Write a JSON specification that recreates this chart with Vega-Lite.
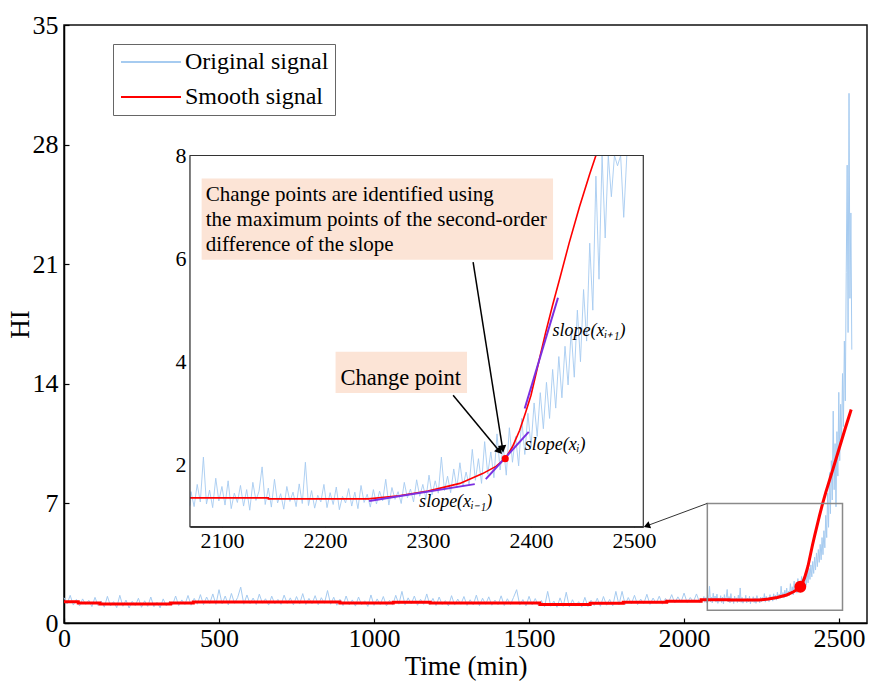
{
  "$schema": "https://vega.github.io/schema/vega-lite/v6.json",
  "width": 803,
  "height": 598,
  "autosize": {"type": "none"},
  "padding": {"left": 64, "top": 25, "right": 2, "bottom": 63},
  "background": "white",
  "config": {
    "font": "Liberation Serif",
    "view": {"stroke": "#111", "strokeWidth": 1.5},
    "axis": {"grid": false, "labelFont": "Liberation Serif", "titleFont": "Liberation Serif", "labelColor": "#000", "titleColor": "#000", "domainColor": "#000", "tickColor": "#000", "titleFontWeight": "normal", "labelFlush": false, "labelOverlap": false},
    "text": {"font": "Liberation Serif", "color": "#000"},
    "legend": {"labelFont": "Liberation Serif", "labelColor": "#000"}
  },
  "datasets": {
    "signal": [
      {"t":0,"v":1.48},{"t":10,"v":1.12},{"t":20,"v":1.62},{"t":30,"v":1.05},{"t":40,"v":1.38},{"t":50,"v":1.0},{"t":60,"v":1.41},{"t":70,"v":1.09},{"t":80,"v":1.33},{"t":90,"v":0.96},
      {"t":100,"v":1.5},{"t":110,"v":1.02},{"t":120,"v":1.29},{"t":130,"v":0.93},{"t":140,"v":1.56},{"t":150,"v":1.0},{"t":160,"v":1.25},{"t":170,"v":0.9},{"t":180,"v":1.62},{"t":190,"v":0.98},
      {"t":200,"v":1.34},{"t":210,"v":0.88},{"t":220,"v":1.27},{"t":230,"v":1.01},{"t":240,"v":1.45},{"t":250,"v":0.92},{"t":260,"v":1.3},{"t":270,"v":0.97},{"t":280,"v":1.52},{"t":290,"v":0.95},
      {"t":300,"v":1.22},{"t":310,"v":0.89},{"t":320,"v":1.41},{"t":330,"v":1.0},{"t":340,"v":1.26},{"t":350,"v":1.05},{"t":360,"v":1.58},{"t":370,"v":1.02},{"t":380,"v":1.35},{"t":390,"v":1.08},
      {"t":400,"v":1.61},{"t":410,"v":1.04},{"t":420,"v":1.44},{"t":430,"v":1.1},{"t":440,"v":1.66},{"t":450,"v":1.07},{"t":460,"v":1.52},{"t":470,"v":1.14},{"t":480,"v":1.7},{"t":490,"v":1.09},
      {"t":500,"v":1.95},{"t":510,"v":1.12},{"t":520,"v":1.58},{"t":530,"v":1.06},{"t":540,"v":1.73},{"t":550,"v":1.15},{"t":560,"v":1.49},{"t":570,"v":2.1},{"t":580,"v":1.1},{"t":590,"v":1.64},
      {"t":600,"v":1.13},{"t":610,"v":1.46},{"t":620,"v":1.08},{"t":630,"v":1.69},{"t":640,"v":1.16},{"t":650,"v":1.42},{"t":660,"v":1.05},{"t":670,"v":1.57},{"t":680,"v":1.12},{"t":690,"v":1.38},
      {"t":700,"v":1.09},{"t":710,"v":1.63},{"t":720,"v":1.14},{"t":730,"v":1.47},{"t":740,"v":1.06},{"t":750,"v":1.55},{"t":760,"v":1.11},{"t":770,"v":1.72},{"t":780,"v":1.08},{"t":790,"v":1.44},
      {"t":800,"v":1.13},{"t":810,"v":1.6},{"t":820,"v":1.07},{"t":830,"v":1.48},{"t":840,"v":1.15},{"t":850,"v":1.9},{"t":860,"v":1.1},{"t":870,"v":1.51},{"t":880,"v":1.04},{"t":890,"v":1.39},
      {"t":900,"v":1.02},{"t":910,"v":1.58},{"t":920,"v":1.06},{"t":930,"v":1.35},{"t":940,"v":0.99},{"t":950,"v":1.52},{"t":960,"v":1.07},{"t":970,"v":1.3},{"t":980,"v":0.97},{"t":990,"v":1.64},
      {"t":1000,"v":1.03},{"t":1010,"v":1.41},{"t":1020,"v":1.08},{"t":1030,"v":1.55},{"t":1040,"v":1.0},{"t":1050,"v":1.33},{"t":1060,"v":1.05},{"t":1070,"v":1.62},{"t":1080,"v":1.1},{"t":1090,"v":1.85},
      {"t":1100,"v":1.06},{"t":1110,"v":1.47},{"t":1120,"v":1.12},{"t":1130,"v":1.58},{"t":1140,"v":1.04},{"t":1150,"v":1.39},{"t":1160,"v":1.09},{"t":1170,"v":1.7},{"t":1180,"v":1.07},{"t":1190,"v":1.44},
      {"t":1200,"v":1.02},{"t":1210,"v":1.52},{"t":1220,"v":1.08},{"t":1230,"v":1.31},{"t":1240,"v":1.0},{"t":1250,"v":1.6},{"t":1260,"v":1.05},{"t":1270,"v":1.4},{"t":1280,"v":1.1},{"t":1290,"v":1.55},
      {"t":1300,"v":1.03},{"t":1310,"v":1.36},{"t":1320,"v":1.06},{"t":1330,"v":1.63},{"t":1340,"v":1.01},{"t":1350,"v":1.45},{"t":1360,"v":1.09},{"t":1370,"v":1.53},{"t":1380,"v":1.04},{"t":1390,"v":1.34},
      {"t":1400,"v":1.07},{"t":1410,"v":1.59},{"t":1420,"v":1.02},{"t":1430,"v":1.42},{"t":1440,"v":1.08},{"t":1450,"v":1.5},{"t":1460,"v":1.95},{"t":1470,"v":1.05},{"t":1480,"v":1.37},{"t":1490,"v":1.0},
      {"t":1500,"v":1.56},{"t":1510,"v":1.06},{"t":1520,"v":1.43},{"t":1530,"v":1.02},{"t":1540,"v":1.32},{"t":1550,"v":0.95},{"t":1560,"v":1.85},{"t":1570,"v":0.98},{"t":1580,"v":1.28},{"t":1590,"v":0.92},
      {"t":1600,"v":1.47},{"t":1610,"v":0.97},{"t":1620,"v":1.8},{"t":1630,"v":0.94},{"t":1640,"v":1.36},{"t":1650,"v":0.99},{"t":1660,"v":1.25},{"t":1670,"v":0.93},{"t":1680,"v":1.5},{"t":1690,"v":0.96},
      {"t":1700,"v":1.33},{"t":1710,"v":1.02},{"t":1720,"v":1.45},{"t":1730,"v":0.98},{"t":1740,"v":1.55},{"t":1750,"v":1.04},{"t":1760,"v":1.38},{"t":1770,"v":1.0},{"t":1780,"v":1.85},{"t":1790,"v":1.06},
      {"t":1800,"v":1.85},{"t":1810,"v":1.08},{"t":1820,"v":1.49},{"t":1830,"v":1.12},{"t":1840,"v":1.62},{"t":1850,"v":1.07},{"t":1860,"v":1.4},{"t":1870,"v":1.13},{"t":1880,"v":1.68},{"t":1890,"v":1.09},
      {"t":1900,"v":1.46},{"t":1910,"v":1.15},{"t":1920,"v":1.57},{"t":1930,"v":1.1},{"t":1940,"v":1.44},{"t":1950,"v":1.2},{"t":1960,"v":1.66},{"t":1970,"v":1.17},{"t":1980,"v":1.53},{"t":1990,"v":1.22},
      {"t":2000,"v":1.75},{"t":2010,"v":1.19},{"t":2020,"v":1.49},{"t":2030,"v":1.24},{"t":2040,"v":1.7},{"t":2050,"v":1.21},
      {"t":2061,"v":1.32},{"t":2064,"v":1.55},{"t":2067,"v":1.21},{"t":2070,"v":1.48},{"t":2073,"v":1.19},{"t":2076,"v":1.62},{"t":2079,"v":1.28},{"t":2082,"v":2.15},{"t":2085,"v":1.24},{"t":2088,"v":1.51},
      {"t":2091,"v":1.17},{"t":2094,"v":1.74},{"t":2097,"v":1.3},{"t":2100,"v":1.58},{"t":2103,"v":1.22},{"t":2106,"v":1.69},{"t":2109,"v":1.15},{"t":2112,"v":1.45},{"t":2115,"v":1.27},{"t":2118,"v":1.6},
      {"t":2121,"v":1.2},{"t":2124,"v":1.52},{"t":2127,"v":1.12},{"t":2130,"v":1.66},{"t":2133,"v":1.31},{"t":2136,"v":1.49},{"t":2139,"v":1.96},{"t":2142,"v":1.23},{"t":2145,"v":1.55},{"t":2148,"v":1.18},
      {"t":2151,"v":1.72},{"t":2154,"v":1.26},{"t":2157,"v":1.44},{"t":2160,"v":1.14},{"t":2163,"v":1.58},{"t":2166,"v":1.29},{"t":2169,"v":1.47},{"t":2172,"v":1.19},{"t":2175,"v":1.63},{"t":2178,"v":1.25},
      {"t":2181,"v":2.05},{"t":2184,"v":1.21},{"t":2187,"v":1.5},{"t":2190,"v":1.16},{"t":2193,"v":1.41},{"t":2196,"v":1.28},{"t":2199,"v":1.62},{"t":2202,"v":1.17},{"t":2205,"v":1.46},{"t":2208,"v":1.23},
      {"t":2211,"v":1.57},{"t":2214,"v":1.13},{"t":2217,"v":1.39},{"t":2220,"v":1.26},{"t":2223,"v":1.54},{"t":2226,"v":1.2},{"t":2229,"v":1.47},{"t":2232,"v":1.15},{"t":2235,"v":1.6},{"t":2238,"v":1.27},
      {"t":2241,"v":1.43},{"t":2244,"v":1.18},{"t":2247,"v":1.52},{"t":2250,"v":1.24},{"t":2253,"v":1.49},{"t":2256,"v":1.3},{"t":2259,"v":1.72},{"t":2262,"v":1.22},{"t":2265,"v":1.56},{"t":2268,"v":1.33},
      {"t":2271,"v":1.48},{"t":2274,"v":1.25},{"t":2277,"v":1.66},{"t":2280,"v":1.36},{"t":2283,"v":1.53},{"t":2286,"v":1.28},{"t":2289,"v":1.71},{"t":2292,"v":1.39},{"t":2295,"v":1.62},{"t":2298,"v":1.34},
      {"t":2301,"v":1.8},{"t":2304,"v":1.42},{"t":2307,"v":1.69},{"t":2310,"v":1.45},{"t":2313,"v":2.15},{"t":2316,"v":1.5},{"t":2319,"v":1.78},{"t":2322,"v":1.46},{"t":2325,"v":1.92},{"t":2328,"v":1.55},
      {"t":2331,"v":2.04},{"t":2334,"v":1.58},{"t":2337,"v":1.86},{"t":2340,"v":1.6},{"t":2343,"v":2.3},{"t":2346,"v":1.7},{"t":2349,"v":2.12},{"t":2352,"v":1.64},{"t":2355,"v":2.45},{"t":2358,"v":1.82},
      {"t":2361,"v":2.25},{"t":2364,"v":1.75},{"t":2367,"v":2.6},{"t":2370,"v":1.9},{"t":2373,"v":2.38},{"t":2376,"v":1.8},{"t":2379,"v":2.72},{"t":2382,"v":2.05},{"t":2385,"v":2.55},{"t":2388,"v":1.98},
      {"t":2391,"v":2.9},{"t":2394,"v":2.2},{"t":2397,"v":3.0},{"t":2400,"v":2.35},{"t":2403,"v":3.2},{"t":2406,"v":2.55},{"t":2409,"v":3.4},{"t":2412,"v":2.7},{"t":2415,"v":3.6},{"t":2418,"v":2.9},
      {"t":2421,"v":3.85},{"t":2424,"v":3.1},{"t":2427,"v":4.1},{"t":2430,"v":3.3},{"t":2433,"v":4.3},{"t":2436,"v":3.55},{"t":2439,"v":4.6},{"t":2442,"v":3.7},{"t":2445,"v":5.0},{"t":2448,"v":4.0},
      {"t":2451,"v":5.4},{"t":2454,"v":4.4},{"t":2457,"v":6.3},{"t":2460,"v":5.0},{"t":2463,"v":7.6},{"t":2466,"v":5.6},{"t":2469,"v":8.8},{"t":2472,"v":6.4},{"t":2475,"v":9.5},{"t":2478,"v":7.2},
      {"t":2481,"v":12.4},{"t":2484,"v":7.8},{"t":2487,"v":10.5},{"t":2490,"v":6.8},{"t":2493,"v":11.2},{"t":2496,"v":8.6},{"t":2499,"v":13.5},{"t":2502,"v":9.5},{"t":2505,"v":12.8},{"t":2508,"v":10.5},
      {"t":2511,"v":14.6},{"t":2514,"v":11.5},{"t":2517,"v":16.5},{"t":2520,"v":13.0},{"t":2523,"v":20.5},{"t":2526,"v":26.8},{"t":2529,"v":17.0},{"t":2532,"v":31.0},{"t":2535,"v":19.0},{"t":2538,"v":24.0},{"t":2541,"v":16.0}
    ],
    "smooth": [
      {"t":0,"v":1.25},{"t":46,"v":1.25},{"t":46,"v":1.17},{"t":116,"v":1.17},{"t":116,"v":1.11},{"t":344,"v":1.11},{"t":344,"v":1.17},{"t":417,"v":1.17},{"t":417,"v":1.23},{"t":890,"v":1.23},
      {"t":890,"v":1.17},{"t":1062,"v":1.17},{"t":1062,"v":1.21},{"t":1181,"v":1.21},{"t":1181,"v":1.17},{"t":1535,"v":1.17},{"t":1535,"v":1.09},{"t":1697,"v":1.09},{"t":1697,"v":1.15},{"t":1804,"v":1.15},
      {"t":1804,"v":1.21},{"t":1944,"v":1.21},{"t":1944,"v":1.28},{"t":2055,"v":1.28},{"t":2055,"v":1.36},{"t":2069,"v":1.36},{"t":2145,"v":1.36},{"t":2145,"v":1.34},{"t":2242,"v":1.34},{"t":2272,"v":1.4},
      {"t":2300,"v":1.49},{"t":2331,"v":1.64},{"t":2353,"v":1.83},{"t":2366,"v":1.97},{"t":2375,"v":2.12},{"t":2382,"v":2.35},{"t":2389,"v":2.67},{"t":2395,"v":3.03},{"t":2400,"v":3.35},{"t":2407,"v":3.95},
      {"t":2414,"v":4.55},{"t":2421,"v":5.1},{"t":2428,"v":5.62},{"t":2437,"v":6.3},{"t":2447,"v":7.0},{"t":2457,"v":7.64},{"t":2463,"v":8.0},{"t":2480,"v":9.0},{"t":2500,"v":10.2},{"t":2520,"v":11.4},{"t":2539,"v":12.5}
    ],
    "change": [{"t": 2375, "v": 2.12}],
    "tangents": [
      {"k": "i-1", "t0": 2242.9, "v0": 1.297, "t1": 2345.4, "v1": 1.626},
      {"k": "i", "t0": 2356.1, "v0": 1.723, "t1": 2397.8, "v1": 2.639},
      {"k": "i+1", "t0": 2393.9, "v0": 3.091, "t1": 2426.2, "v1": 5.24}
    ]
  },
  "layer": [
    {
      "layer": [
        {
          "data": {"name": "signal"},
          "mark": {"type": "line", "strokeWidth": 1},
          "encoding": {
            "x": {"field": "t", "type": "quantitative",
              "scale": {"domain": [0, 2590], "nice": false, "zero": false},
              "axis": {"title": "Time (min)", "values": [0, 500, 1000, 1500, 2000, 2500], "format": "d", "tickSize": -5, "tickWidth": 1.2, "domainWidth": 1.5, "labelFontSize": 26, "labelPadding": 7, "titleFontSize": 27, "titlePadding": 2}},
            "y": {"field": "v", "type": "quantitative",
              "scale": {"domain": [0, 35], "nice": false, "zero": false},
              "axis": {"title": "HI", "values": [0, 7, 14, 21, 28, 35], "format": "d", "tickSize": -5, "tickWidth": 1.2, "domainWidth": 1.5, "labelFontSize": 26, "labelPadding": 11, "titleFontSize": 27, "titlePadding": -2}},
            "order": {"value": null},
            "color": {"datum": "Original signal",
              "scale": {"domain": ["Original signal", "Smooth signal"], "range": ["#a6cbf0", "#ff0000"]},
              "legend": {"title": null, "orient": "none", "legendX": 49, "legendY": 19, "symbolType": "M-1,0H5", "symbolSize": 400, "symbolStrokeWidth": 2.2, "labelFontSize": 24, "labelFont": "Liberation Serif", "labelOffset": 42, "rowPadding": 11, "padding": 6, "strokeColor": "#666", "fillColor": "white"}}
          }
        },
        {
          "data": {"name": "smooth"},
          "mark": {"type": "line", "strokeWidth": 3},
          "encoding": {
            "x": {"field": "t", "type": "quantitative"},
            "y": {"field": "v", "type": "quantitative"},
            "order": {"value": null},
            "color": {"datum": "Smooth signal"}
          }
        },
        {
          "data": {"values": [{}]},
          "mark": {"type": "rect", "fill": "white", "fillOpacity": 0, "stroke": "#8a8a8a", "strokeWidth": 1.5},
          "encoding": {
            "x": {"datum": 2075, "type": "quantitative"}, "x2": {"datum": 2511},
            "y": {"datum": 0.74, "type": "quantitative"}, "y2": {"datum": 7.0}
          }
        },
        {
          "data": {"name": "change"},
          "mark": {"type": "point", "filled": true, "color": "#ff0000", "opacity": 1, "size": 140},
          "encoding": {
            "x": {"field": "t", "type": "quantitative"},
            "y": {"field": "v", "type": "quantitative"}
          }
        },
        {
          "data": {"values": [{}]},
          "mark": {"type": "rule", "color": "#333", "strokeWidth": 1},
          "encoding": {
            "x": {"datum": 2075, "type": "quantitative"}, "y": {"datum": 7.0, "type": "quantitative"},
            "x2": {"datum": 1883}, "y2": {"datum": 5.71}
          }
        },
        {
          "data": {"values": [{}]},
          "mark": {"type": "point", "shape": "triangle", "filled": true, "color": "#000", "opacity": 1, "size": 55, "angle": 250},
          "encoding": {
            "x": {"datum": 1883, "type": "quantitative"}, "y": {"datum": 5.71, "type": "quantitative"}
          }
        }
      ]
    },
    {
      "layer": [
        {
          "data": {"values": [{}]},
          "mark": {"type": "rect", "fill": "white", "strokeWidth": 0},
          "encoding": {
            "x": {"datum": 2069, "type": "quantitative",
              "scale": {"domain": [2069, 2509], "range": [126, 579.3], "nice": false, "zero": false, "clamp": true},
              "axis": {"orient": "bottom", "offset": -96.3, "title": null, "values": [2100, 2200, 2300, 2400, 2500], "format": "d", "tickSize": -4, "tickWidth": 1, "domainWidth": 1.3, "labelFontSize": 22, "labelPadding": 8}},
            "x2": {"datum": 2509},
            "y": {"datum": 0.8, "type": "quantitative",
              "scale": {"domain": [0.8, 8], "range": [501.7, 130.5], "nice": false, "zero": false, "clamp": true},
              "axis": {"orient": "left", "offset": -126, "title": null, "values": [2, 4, 6, 8], "format": "d", "tickSize": -4, "tickWidth": 1, "domainWidth": 1.3, "labelFontSize": 22, "labelPadding": 8}},
            "y2": {"datum": 8}
          }
        },
        {
          "data": {"values": [{}]},
          "mark": {"type": "rect", "fill": "#fce4d6"},
          "encoding": {
            "x": {"datum": 2080.3, "type": "quantitative"}, "x2": {"datum": 2421.4},
            "y": {"datum": 5.98, "type": "quantitative"}, "y2": {"datum": 7.554}
          }
        },
        {
          "data": {"values": [{}]},
          "mark": {"type": "rect", "fill": "#fce4d6"},
          "encoding": {
            "x": {"datum": 2210.3, "type": "quantitative"}, "x2": {"datum": 2337.9},
            "y": {"datum": 3.393, "type": "quantitative"}, "y2": {"datum": 4.193}
          }
        },
        {
          "data": {"values": [{}]},
          "mark": {"type": "text", "font": "Liberation Serif", "align": "left", "baseline": "alphabetic", "fontSize": 21, "lineHeight": 25,
            "text": ["Change points are identified using", "the maximum points of the second-order", "difference of the slope"]},
          "encoding": {
            "x": {"datum": 2084.2, "type": "quantitative"}, "y": {"datum": 7.12, "type": "quantitative"}
          }
        },
        {
          "data": {"values": [{}]},
          "mark": {"type": "text", "font": "Liberation Serif", "align": "center", "baseline": "alphabetic", "fontSize": 22.5, "text": "Change point"},
          "encoding": {
            "x": {"datum": 2273.5, "type": "quantitative"}, "y": {"datum": 3.54, "type": "quantitative"}
          }
        },
        {
          "data": {"name": "signal"},
          "transform": [{"filter": "datum.t >= 2067 && datum.t <= 2511"}],
          "mark": {"type": "line", "color": "#a6cbf0", "strokeWidth": 0.9},
          "encoding": {
            "x": {"field": "t", "type": "quantitative"},
            "y": {"field": "v", "type": "quantitative"},
            "order": {"value": null}
          }
        },
        {
          "data": {"name": "smooth"},
          "transform": [{"filter": "datum.t >= 2060 && datum.t <= 2463"}],
          "mark": {"type": "line", "color": "#ff0000", "strokeWidth": 1.6},
          "encoding": {
            "x": {"field": "t", "type": "quantitative"},
            "y": {"field": "v", "type": "quantitative"},
            "order": {"value": null}
          }
        },
        {
          "data": {"name": "tangents"},
          "mark": {"type": "rule", "color": "#7b2fe0", "strokeWidth": 2},
          "encoding": {
            "x": {"field": "t0", "type": "quantitative"}, "x2": {"field": "t1"},
            "y": {"field": "v0", "type": "quantitative"}, "y2": {"field": "v1"}
          }
        },
        {
          "data": {"values": [{}]},
          "mark": {"type": "text", "font": "Liberation Serif", "align": "left", "baseline": "middle", "fontSize": 18, "fontStyle": "italic", "text": "slope(xᵢ₋₁)"},
          "encoding": {"x": {"datum": 2291.4, "type": "quantitative"}, "y": {"datum": 1.27, "type": "quantitative"}}
        },
        {
          "data": {"values": [{}]},
          "mark": {"type": "text", "font": "Liberation Serif", "align": "left", "baseline": "middle", "fontSize": 18, "fontStyle": "italic", "text": "slope(xᵢ)"},
          "encoding": {"x": {"datum": 2393.9, "type": "quantitative"}, "y": {"datum": 2.38, "type": "quantitative"}}
        },
        {
          "data": {"values": [{}]},
          "mark": {"type": "text", "font": "Liberation Serif", "align": "left", "baseline": "middle", "fontSize": 18, "fontStyle": "italic", "text": "slope(xᵢ₊₁)"},
          "encoding": {"x": {"datum": 2420.8, "type": "quantitative"}, "y": {"datum": 4.6, "type": "quantitative"}}
        },
        {
          "data": {"values": [{}]},
          "mark": {"type": "rule", "color": "#000", "strokeWidth": 1.5},
          "encoding": {
            "x": {"datum": 2343.8, "type": "quantitative"}, "y": {"datum": 5.93, "type": "quantitative"},
            "x2": {"datum": 2372.3}, "y2": {"datum": 2.33}
          }
        },
        {
          "data": {"values": [{}]},
          "mark": {"type": "rule", "color": "#000", "strokeWidth": 1.5},
          "encoding": {
            "x": {"datum": 2324.4, "type": "quantitative"}, "y": {"datum": 3.35, "type": "quantitative"},
            "x2": {"datum": 2368.8}, "y2": {"datum": 2.28}
          }
        },
        {
          "data": {"values": [{}]},
          "mark": {"type": "point", "shape": "triangle", "filled": true, "color": "#000", "opacity": 1, "size": 70, "angle": 171},
          "encoding": {"x": {"datum": 2372.3, "type": "quantitative"}, "y": {"datum": 2.33, "type": "quantitative"}}
        },
        {
          "data": {"values": [{}]},
          "mark": {"type": "point", "shape": "triangle", "filled": true, "color": "#000", "opacity": 1, "size": 70, "angle": 140},
          "encoding": {"x": {"datum": 2368.8, "type": "quantitative"}, "y": {"datum": 2.28, "type": "quantitative"}}
        },
        {
          "data": {"name": "change"},
          "mark": {"type": "point", "filled": true, "color": "#ff0000", "opacity": 1, "size": 50},
          "encoding": {
            "x": {"field": "t", "type": "quantitative"},
            "y": {"field": "v", "type": "quantitative"}
          }
        },
        {
          "data": {"values": [{}]},
          "mark": {"type": "rect", "fill": "white", "fillOpacity": 0, "stroke": "#333", "strokeWidth": 1.2},
          "encoding": {
            "x": {"datum": 2069, "type": "quantitative"}, "x2": {"datum": 2509},
            "y": {"datum": 0.8, "type": "quantitative"}, "y2": {"datum": 8}
          }
        }
      ]
    }
  ],
  "resolve": {"scale": {"x": "independent", "y": "independent"}}
}
